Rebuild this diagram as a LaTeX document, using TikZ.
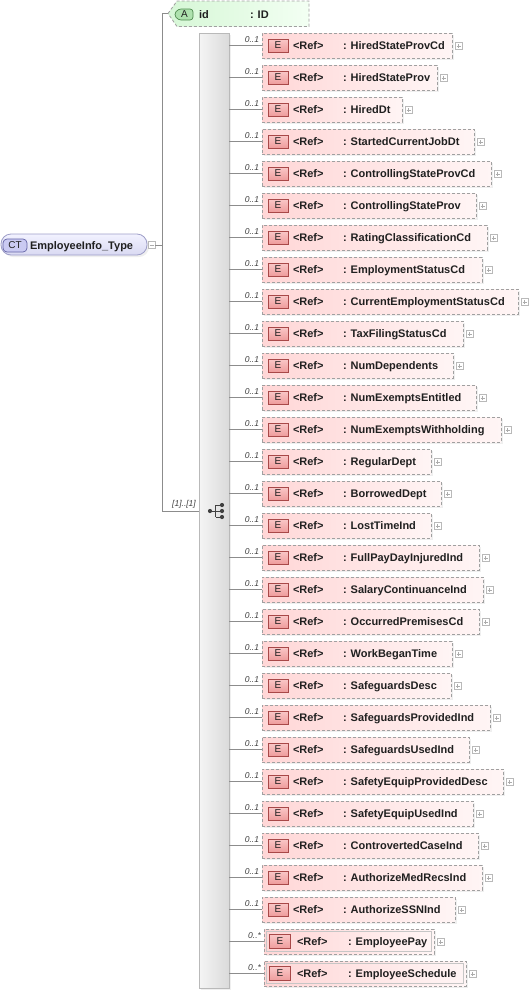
\documentclass[tikz,border=0pt]{standalone}
\usepackage{fontspec}
\setmainfont{Liberation Sans}
\usetikzlibrary{shadows}
\definecolor{connc}{HTML}{8C8C8C}
\definecolor{dashc}{HTML}{A0A0A0}
\definecolor{elL}{HTML}{FFD6D6}
\definecolor{elR}{HTML}{FFF5F5}
\definecolor{ebT}{HTML}{FAC8C8}
\definecolor{ebB}{HTML}{EE9C9C}
\definecolor{ebD}{HTML}{A84848}
\definecolor{atL}{HTML}{D6F7D6}
\definecolor{atR}{HTML}{F3FFF3}
\definecolor{abF}{HTML}{AEE2AE}
\definecolor{abD}{HTML}{4E8A4E}
\definecolor{ctT}{HTML}{F2F2FF}
\definecolor{ctB}{HTML}{D9D9F2}
\definecolor{ctD}{HTML}{9E9EC8}
\definecolor{cbF}{HTML}{CACAF2}
\definecolor{cbD}{HTML}{6464A6}
\definecolor{seqL}{HTML}{F5F5F5}
\definecolor{seqR}{HTML}{DADADA}
\definecolor{txt}{HTML}{202020}
\newcommand\elfont{\fontsize{11}{13}\selectfont\bfseries}
\newcommand\badgefont{\fontsize{10}{12}\selectfont}
\newcommand\multfont{\fontsize{8.5}{10}\selectfont\itshape}
\begin{document}
\begin{tikzpicture}[x=1pt,y=-1pt,
  every node/.style={inner sep=0pt, outer sep=0pt},
  conn/.style={draw=connc, line width=0.8pt},
  elbox/.style={draw=dashc, dash pattern=on 3pt off 2pt, line width=0.8pt,
    left color=elL, right color=elR, minimum height=25, anchor=west,
    drop shadow={shadow xshift=2pt, shadow yshift=-2pt, fill=black!12}},
  ebadge/.style={draw=ebD, line width=0.7pt, top color=ebT, bottom color=ebB,
    minimum width=20, minimum height=13, font=\badgefont, text=txt},
  eltext/.style={anchor=base west, font=\elfont, text=txt},
  mult/.style={anchor=east, font=\multfont, text=black!75},
  plusbox/.style={draw=gray!55, fill=white, line width=0.6pt, minimum size=7,
    path picture={
      \draw[gray!65, line width=0.6pt] ([xshift=1.5pt]path picture bounding box.west) -- ([xshift=-1.5pt]path picture bounding box.east);
      \draw[gray!65, line width=0.6pt] ([yshift=-1.5pt]path picture bounding box.north) -- ([yshift=1.5pt]path picture bounding box.south);}},
  minusbox/.style={draw=gray!55, fill=white, line width=0.6pt, minimum size=7,
    path picture={
      \draw[gray!65, line width=0.6pt] ([xshift=1.5pt]path picture bounding box.west) -- ([xshift=-1.5pt]path picture bounding box.east);}},
  seqbar/.style={draw=gray!55, line width=0.7pt, left color=seqL, right color=seqR,
    minimum width=30, minimum height=955,
    drop shadow={shadow xshift=2pt, shadow yshift=-2pt, fill=black!12}},
  dotc/.style={fill=black!75, circle, minimum size=4.2}
]
\useasboundingbox (0,0) rectangle (531,993);

% complex type node
\node[draw=ctD, line width=0.8pt, top color=ctT, bottom color=ctB,
  rounded corners=10pt, minimum width=146, minimum height=21,
  drop shadow={shadow xshift=2pt, shadow yshift=-2pt, fill=black!12}] (ct) at (74,244.5) {};
\node[draw=cbD, line width=0.7pt, fill=cbF, rounded corners=4pt,
  minimum width=24, minimum height=13, font=\badgefont, text=txt] (ctbadge) at (15,245.5) {CT};
\node[eltext] (ctname) at (30,249) {EmployeeInfo\_Type};
\node[minusbox] (ctminus) at (151.5,245) {};

% attribute
\path[draw=dashc, dash pattern=on 3pt off 2pt, line width=0.8pt, left color=atL, right color=atR]
  (168,13.5) -- (177,1) -- (309,1) -- (309,26.5) -- (177,26.5) -- cycle;
\coordinate (attrtip) at (168,13.5);
\path[draw=abD, line width=0.7pt, fill=abF, rounded corners=3pt]
  (193,9) -- (178,9) -- (174,14.5) -- (178,20) -- (193,20) -- cycle;
\node[font=\badgefont, text=txt] (abadge) at (184.5,14.5) {A};
\node[eltext] (aname) at (199,18) {id};
\node[eltext] (atype) at (250,18) {: ID};

% sequence bar
\node[seqbar] (seq) at (214,510.5) {};
\coordinate (seqin) at (199,511);
\coordinate (fork) at (162,245);
\draw[conn] (ctminus.east) -- (fork);
\draw[conn] (fork) |- (attrtip);
\draw[conn] (fork) |- (seqin);
\node[anchor=south, font=\multfont, text=black!75] (seqmult) at (184,508) {[1]..[1]};

% sequence icon
\draw[black!75, line width=0.8pt] (210,511) -- (215.5,511)
  (215.5,505) -- (215.5,517)
  (215.5,505) -- (222,505) (215.5,511) -- (222,511) (215.5,517) -- (222,517);
\node[dotc] (sd0) at (210,511) {};
\node[dotc] (sd1) at (222,505) {};
\node[dotc] (sd2) at (222,511) {};
\node[dotc] (sd3) at (222,517) {};

% elements
\foreach \n/\r/\m [count=\i from 0] in {
  HiredStateProvCd/452/1, HiredStateProv/437/1, HiredDt/402/1,
  StartedCurrentJobDt/474/1, ControllingStateProvCd/491/1, ControllingStateProv/476/1,
  RatingClassificationCd/487/1, EmploymentStatusCd/482/1, CurrentEmploymentStatusCd/518/1,
  TaxFilingStatusCd/463/1, NumDependents/453/1, NumExemptsEntitled/476/1,
  NumExemptsWithholding/501/1, RegularDept/431/1, BorrowedDept/441/1,
  LostTimeInd/431/1, FullPayDayInjuredInd/479/1, SalaryContinuanceInd/483/1,
  OccurredPremisesCd/479/1, WorkBeganTime/452/1, SafeguardsDesc/451/1,
  SafeguardsProvidedInd/490/1, SafeguardsUsedInd/469/1, SafetyEquipProvidedDesc/503/1,
  SafetyEquipUsedInd/473/1, ControvertedCaseInd/478/1, AuthorizeMedRecsInd/482/1,
  AuthorizeSSNInd/455/1, EmployeePay/434/0, EmployeeSchedule/466/0}
{
  \pgfmathsetmacro\yc{45.5+32*\i}
  \ifnum\m=1
    \pgfmathsetmacro\w{\r-262}
    \node[elbox, minimum width=\w] (e\i) at (262,\yc) {};
    \node[ebadge] (b\i) at (278,\yc) {E};
    \node[eltext] (r\i) at (293,\yc+4) {<Ref>};
    \node[eltext] (t\i) at (343,\yc+4) {: \n};
    \node[mult] (m\i) at (259,\yc-6) {0..1};
  \else
    \pgfmathsetmacro\w{\r-264}
    \node[elbox, minimum width=\w] (e\i) at (264,\yc) {};
    \draw[dashc!60, line width=0.5pt] ([shift={(2.5,2.5)}]e\i.north west) rectangle ([shift={(-2.5,-2.5)}]e\i.south east);
    \node[ebadge, minimum width=21, minimum height=14] (b\i) at (280,\yc) {E};
    \node[eltext] (r\i) at (297,\yc+4) {<Ref>};
    \node[eltext] (t\i) at (348,\yc+4) {: \n};
    \node[mult] (m\i) at (261,\yc-6) {0..*};
  \fi
  \draw[conn] (seq.east |- e\i.west) -- (e\i.west);
  \node[plusbox] (p\i) at (\r+6.5,\yc+0.5) {};
}
\end{tikzpicture}
\end{document}
